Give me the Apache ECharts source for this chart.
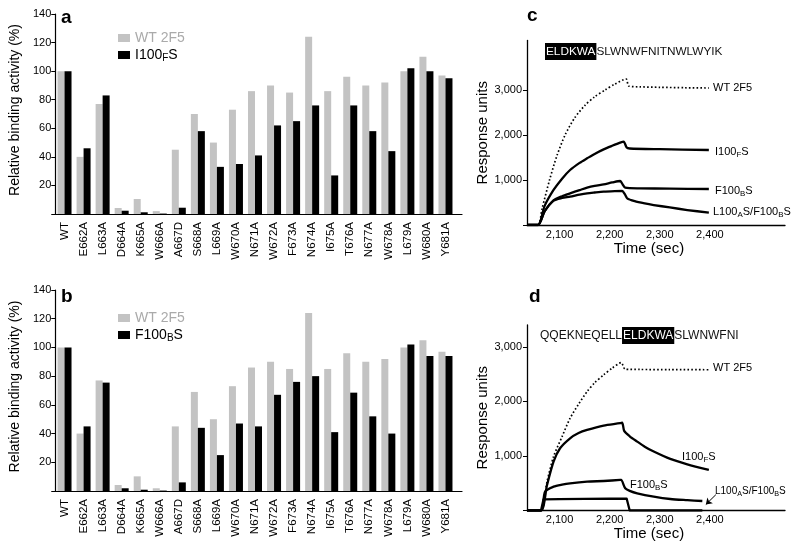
<!DOCTYPE html>
<html><head><meta charset="utf-8">
<script src="https://cdn.jsdelivr.net/npm/echarts@6/dist/echarts.min.js"></script>
<style>html,body{margin:0;padding:0;background:#fff}#c{width:800px;height:550px}</style>
</head><body><div id="c"></div>
<script>
// ---------- Data: panels a & b (bar charts) ----------
const categories = ['WT','E662A','L663A','D664A','K665A','W666A','A667D','S668A','L669A','W670A','N671A','W672A','F673A','N674A','I675A','T676A','N677A','W678A','L679A','W680A','Y681A'];
const wt2f5A  = [100,40,77,4.2,10.5,2,45,70,50,73,86,90,85,124,86,96,90,92,100,110,97];
const i100fsA = [100,46,83,2.3,1.2,0.3,4.4,58,33,35,41,62,65,76,27,76,58,44,102,100,95];
const wt2f5B  = [100,40,77,4.2,10.2,1.9,45,69,50,73,86,90,85,124,85,96,90,92,100,105,97];
const f100bsB = [100,45,75.5,1.9,0.9,0.3,6,44,25,47,45,67,76,80,41,68.5,52,40,102,94,94];
const barTicksY = [0,140,20]; // min, max, interval

// ---------- Data: panels c & d (sensorgrams) ----------
const timeTicks = [2100,2200,2300,2400];
const cT_wt   = [2035,2057,2065,2080,2095,2111,2130,2150,2170,2191,2210,2233,2238,2260,2300,2350,2398];
const cV_wt   = [0,0,360,1000,1550,2000,2380,2650,2850,3000,3130,3244,3090,3070,3060,3050,3044];
const cT_i100 = [2035,2057,2070,2088,2105,2121,2140,2155,2170,2188,2205,2221,2228,2234,2240,2300,2398];
const cV_i100 = [0,0,420,778,1030,1222,1380,1481,1580,1681,1760,1830,1852,1720,1700,1685,1667];
const cT_f100 = [2035,2057,2070,2088,2105,2121,2140,2155,2170,2188,2205,2221,2226,2231,2260,2320,2398];
const cV_f100 = [0,0,300,545,640,704,775,830,870,904,945,978,900,830,815,808,800];
const cT_l100 = [2035,2057,2070,2088,2105,2121,2140,2155,2170,2188,2210,2225,2230,2235,2250,2270,2288,2320,2355,2398];
const cV_l100 = [0,0,300,540,600,630,675,704,722,741,752,756,690,593,530,480,444,390,333,274];

const dT_wt   = [2035,2063,2075,2088,2105,2121,2138,2155,2170,2188,2205,2223,2231,2260,2320,2398];
const dV_wt   = [0,0,529,988,1355,1691,1950,2180,2340,2486,2610,2710,2590,2585,2582,2580];
const dT_i100 = [2035,2063,2075,2088,2101,2121,2138,2155,2188,2221,2225,2229,2240,2255,2270,2288,2321,2355,2398];
const dV_i100 = [0,0,468,896,1141,1324,1420,1477,1556,1600,1612,1459,1360,1263,1170,1080,945,847,743];
const dT_f100 = [2035,2063,2071,2088,2105,2121,2155,2188,2221,2223,2231,2240,2255,2288,2321,2355,2385];
const dV_f100 = [0,0,345,437,475,499,529,541,560,562,407,360,315,254,211,190,174];
const dT_l100 = [2035,2063,2068,2100,2150,2200,2234,2240,2385];
const dV_l100 = [0,0,205,210,212,215,215,0,0];
const arrowD  = [[2412,290],[2392,110]];

// ---------- Chart ----------
const FONT = "'Liberation Sans', Arial, Helvetica, sans-serif";
const GRAY = '#c3c3c3';
const fmtComma = v => String(v).replace(/\B(?=(\d{3})+(?!\d))/g, ',');
const zip = (t, v) => t.map((x, i) => [x, v[i]]);
const subName = {'I100FS':'I100{s|F}S','F100BS':'F100{s|B}S'};

function axisGridX(gi){
  return {gridIndex:gi, type:'value', min:0, max:1,
    axisLine:{show:true, lineStyle:{color:'#000', width:1.2}},
    axisTick:{show:false}, axisLabel:{show:false}, splitLine:{show:false}};
}
function axisGridY(gi){
  return {gridIndex:gi, type:'value', min:barTicksY[0], max:barTicksY[1], interval:barTicksY[2],
    axisLine:{show:true, lineStyle:{color:'#000', width:1.2}},
    axisTick:{show:true, length:4, lineStyle:{color:'#000'}},
    axisLabel:{formatter: v => v === 0 ? '' : String(v), fontSize:11, color:'#000', margin:4},
    splitLine:{show:false},
    name:'Relative binding activity (%)', nameLocation:'middle', nameGap:26,
    nameTextStyle:{fontSize:14, color:'#000', padding:[0,0,0,8]}};
}
function catX(gi){
  return {gridIndex:gi, type:'category', data:categories,
    axisLine:{show:false}, axisTick:{show:false},
    axisLabel:{rotate:90, fontSize:11.5, color:'#000', margin:8, interval:0}};
}
function hiddenY(gi){
  return {gridIndex:gi, type:'value', min:barTicksY[0], max:barTicksY[1], show:false};
}
function timeX(gi, gap){
  return {gridIndex:gi, type:'value', min:2035, max:2550,
    axisLine:{show:true, lineStyle:{color:'#000', width:1.3}},
    axisTick:{show:false},
    axisLabel:{customValues:timeTicks, formatter:fmtComma, fontSize:11, color:'#000', margin:4},
    splitLine:{show:false},
    name:'Time (sec)', nameLocation:'middle', nameGap:gap,
    nameTextStyle:{fontSize:15, color:'#000', padding:[0,14,0,0]}};
}
function respY(gi, max){
  return {gridIndex:gi, type:'value', min:0, max:max,
    axisLine:{show:true, lineStyle:{color:'#000', width:1.3}},
    axisTick:{show:true, length:4, customValues:[0,1000,2000,3000], lineStyle:{color:'#000'}},
    axisLabel:{customValues:[1000,2000,3000], formatter:fmtComma, fontSize:11, color:'#000', margin:5},
    splitLine:{show:false},
    name:'Response units', nameLocation:'middle', nameGap:36,
    nameTextStyle:{fontSize:15, color:'#000'}};
}
function bar(name, data, color, gi){
  return {name:name, type:'bar', data:data, xAxisIndex:gi, yAxisIndex:gi,
    barWidth:7, barGap:'0%', itemStyle:{color:color}};
}
function line(name, t, v, gi, dotted, smooth){
  return {name:name, type:'line', data:zip(t, v), xAxisIndex:gi, yAxisIndex:gi,
    showSymbol:false, smooth:smooth, z:5,
    lineStyle: dotted ? {color:'#000', width:1.7, type:[1.6,2.2]} : {color:'#000', width:2.3, join:'round'},
    itemStyle:{color:'#000'}};
}
function legendFor(top, second){
  return {left:113, top:top, orient:'vertical', itemWidth:12, itemHeight:8, itemGap:1, icon:'rect',
    data:[{name:'WT 2F5', textStyle:{color:'#aaaaaa'}}, {name:second}],
    formatter: n => subName[n] || n,
    textStyle:{fontSize:14, color:'#000', lineHeight:16,
      rich:{s:{fontSize:10, lineHeight:4, verticalAlign:'bottom'}}}};
}
function label(text, left, top, size){
  return {text:text, left:left, top:top, padding:0,
    textStyle:{fontSize:size, fontWeight:'normal', color:'#000', lineHeight:14,
      rich:{s:{fontSize:size*0.72, lineHeight:7, verticalAlign:'bottom'}}}};
}
function peptide(text, left, top, size){
  return {text:text, left:left, top:top, padding:0,
    textStyle:{fontSize:size, fontWeight:'normal', color:'#111',
      rich:{h:{fontSize:size, backgroundColor:'#000', color:'#fff', padding:[3,1,2,1]}}}};
}
function letter(t, left, top){
  return {text:t, left:left, top:top, padding:0, textStyle:{fontSize:19, fontWeight:'bold', color:'#000'}};
}

const lineD_l100 = line('d L100AS/F100BS', dT_l100, dV_l100, 5, false, false);
lineD_l100.markLine = {silent:true, symbol:['none','arrow'], symbolSize:6,
  lineStyle:{color:'#000', width:1, type:'solid'}, label:{show:false},
  data:[[{coord:arrowD[0]},{coord:arrowD[1]}]]};

const SM = 0.25;
const option = {
  animation:false,
  backgroundColor:'#fff',
  textStyle:{fontFamily:FONT},
  title:[
    letter('a', 61, 8), letter('b', 61, 287), letter('c', 527, 6), letter('d', 529, 287),
    peptide('{h|ELDKWA}SLWNWFNITNWLWYIK', 545, 43, 11.8),
    peptide('QQEKNEQELL{h|ELDKWA}SLWNWFNI', 540, 327, 12),
    label('WT 2F5', 713, 81, 11),
    label('I100{s|F}S', 715, 145, 11),
    label('F100{s|B}S', 715, 184, 11),
    label('L100{s|A}S/F100{s|B}S', 713, 205, 11),
    label('WT 2F5', 713, 361, 11),
    label('I100{s|F}S', 682, 450, 11),
    label('F100{s|B}S', 630, 478, 11),
    label('L100{s|A}S/F100{s|B}S', 715, 484, 10)
  ],
  legend:[legendFor(25,'I100FS'), legendFor(305,'F100BS')],
  grid:[
    {left:50, top:14, width:412, height:200},
    {left:55, top:14, width:400, height:200},
    {left:50, top:290, width:412, height:201},
    {left:55, top:290, width:400, height:201},
    {left:527, top:40.5, width:258, height:184.5},
    {left:527, top:325, width:258, height:185.5}
  ],
  xAxis:[axisGridX(0), catX(1), axisGridX(2), catX(3), timeX(4, 10), timeX(5, 15)],
  yAxis:[axisGridY(0), hiddenY(1), axisGridY(2), hiddenY(3), respY(4, 4100), respY(5, 3400)],
  series:[
    bar('WT 2F5', wt2f5A, GRAY, 1),
    bar('I100FS', i100fsA, '#000', 1),
    bar('WT 2F5', wt2f5B, GRAY, 3),
    bar('F100BS', f100bsB, '#000', 3),
    line('c WT 2F5', cT_wt, cV_wt, 4, true, SM),
    line('c I100FS', cT_i100, cV_i100, 4, false, SM),
    line('c F100BS', cT_f100, cV_f100, 4, false, SM),
    line('c L100AS/F100BS', cT_l100, cV_l100, 4, false, SM),
    line('d WT 2F5', dT_wt, dV_wt, 5, true, SM),
    line('d I100FS', dT_i100, dV_i100, 5, false, SM),
    line('d F100BS', dT_f100, dV_f100, 5, false, SM),
    lineD_l100
  ]
};
const chart = echarts.init(document.getElementById('c'));
chart.setOption(option);
</script>
</body></html>
